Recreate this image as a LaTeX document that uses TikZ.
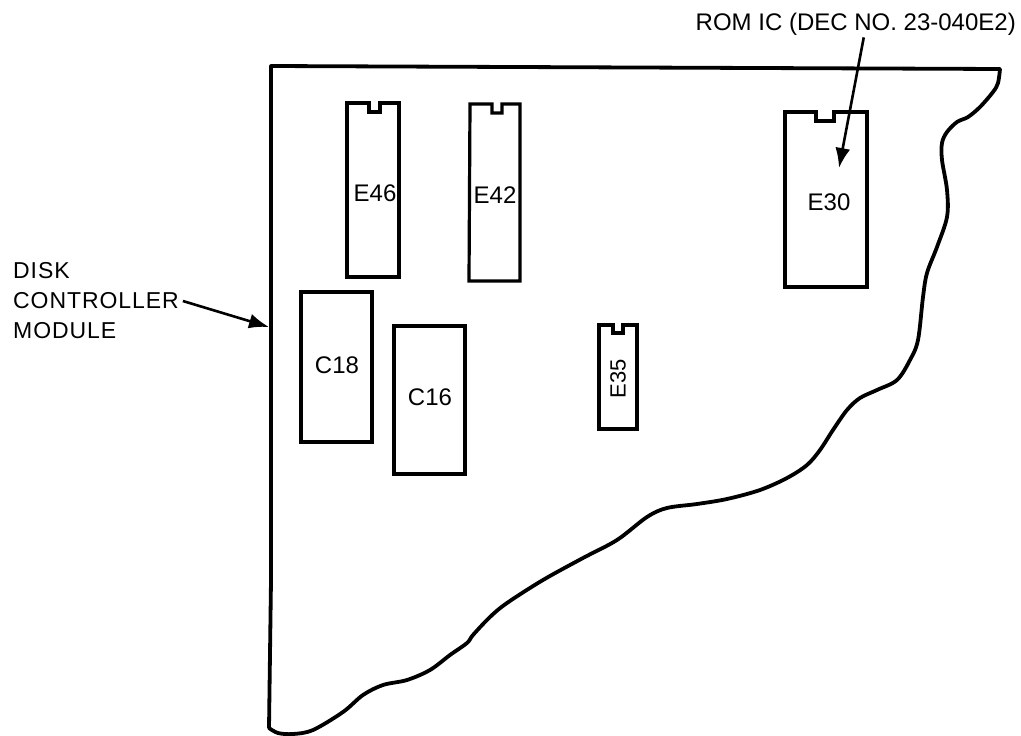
\documentclass[tikz,border=0pt]{standalone}
\usepackage{fontspec}
\setmainfont{Liberation Sans}
\newfontfamily\spacedfont[LetterSpace=4]{Liberation Sans}
\usetikzlibrary{arrows.meta}
\tikzset{
  board/.style={line width=3.8pt,line join=round,line cap=round},
  chip/.style={line width=3.2pt,line join=miter},
  chiplabel/.style={inner sep=0pt,font=\fontsize{24}{28}\selectfont},
  callout/.style={inner sep=0pt,font=\spacedfont\fontsize{23}{30}\selectfont,align=left},
  pointer/.style={line width=2.6pt,-{Latex[length=20pt,width=15pt]}}
}
\begin{document}
\begin{tikzpicture}[x=1pt,y=-1pt]
\useasboundingbox (0,0) rectangle (1021,736);
% board outline
\draw[board] (271,580) -- (271,66) -- (1000,69)
  plot[smooth,tension=0.55] coordinates {(1000,69) (998,83) (993,92) (980,107) (968,117) (957,122) (947,132) (942,143) (942,160) (947,190) (947,217) (937,247) (927,273) (923,297) (918,340) (910,360) (897,380) (877,390) (860,398) (847,410) (833,430) (820,450) (807,465) (787,478) (760,490) (727,499) (697,504) (667,508) (647,517) (617,540) (583,558) (543,580) (507,603) (490,617) (473,635) (467,643) (450,655) (430,670) (407,680) (383,685) (363,695) (343,712) (313,730) (293,734) (278,733) (269,728)}
  (269,728) -- (271,580);
% chips with notch
\draw[chip] (347,103) -- (369,103) -- (369,112) -- (380,112) -- (380,103) -- (399,103) -- (399,277) -- (347,277) -- cycle;
\draw[chip] (470,104) -- (492,104) -- (492,113) -- (502,113) -- (502,104) -- (520,104) -- (520,281) -- (469,281) -- cycle;
\draw[chip] (785,112) -- (816,112) -- (816,121) -- (834,121) -- (834,112) -- (867,112) -- (867,287) -- (785,287) -- cycle;
\draw[chip] (599,325) -- (613,325) -- (613,333) -- (623,333) -- (623,325) -- (637,325) -- (637,429) -- (599,429) -- cycle;
\draw[chip] (301,292) rectangle (372,442);
\draw[chip] (394,326) rectangle (465,474);
% chip labels
\node[chiplabel] (e46) at (375,193) {E46};
\node[chiplabel] (e42) at (495,195) {E42};
\node[chiplabel] (e30) at (829,202) {E30};
\node[chiplabel] (c18) at (337,365) {C18};
\node[chiplabel] (c16) at (430,397) {C16};
\node[chiplabel,rotate=90,font=\fontsize{22}{26}\selectfont] (e35) at (618,379) {E35};
% callouts
\node[callout,anchor=east,font=\fontsize{24}{28}\selectfont] (rom) at (1016,24) {ROM IC (DEC NO. 23-040E2)};
\node[callout,anchor=west] (disk) at (13,301) {DISK\\CONTROLLER\\MODULE};
\coordinate (romtail) at ([xshift=8pt,yshift=-2pt]rom.south);
\coordinate (romtip) at (839,168);
\coordinate (disktip) at (269,327);
\draw[pointer] (romtail) -- (romtip);
\draw[pointer] ([xshift=4pt]disk.east) -- (disktip);
\end{tikzpicture}
\end{document}
